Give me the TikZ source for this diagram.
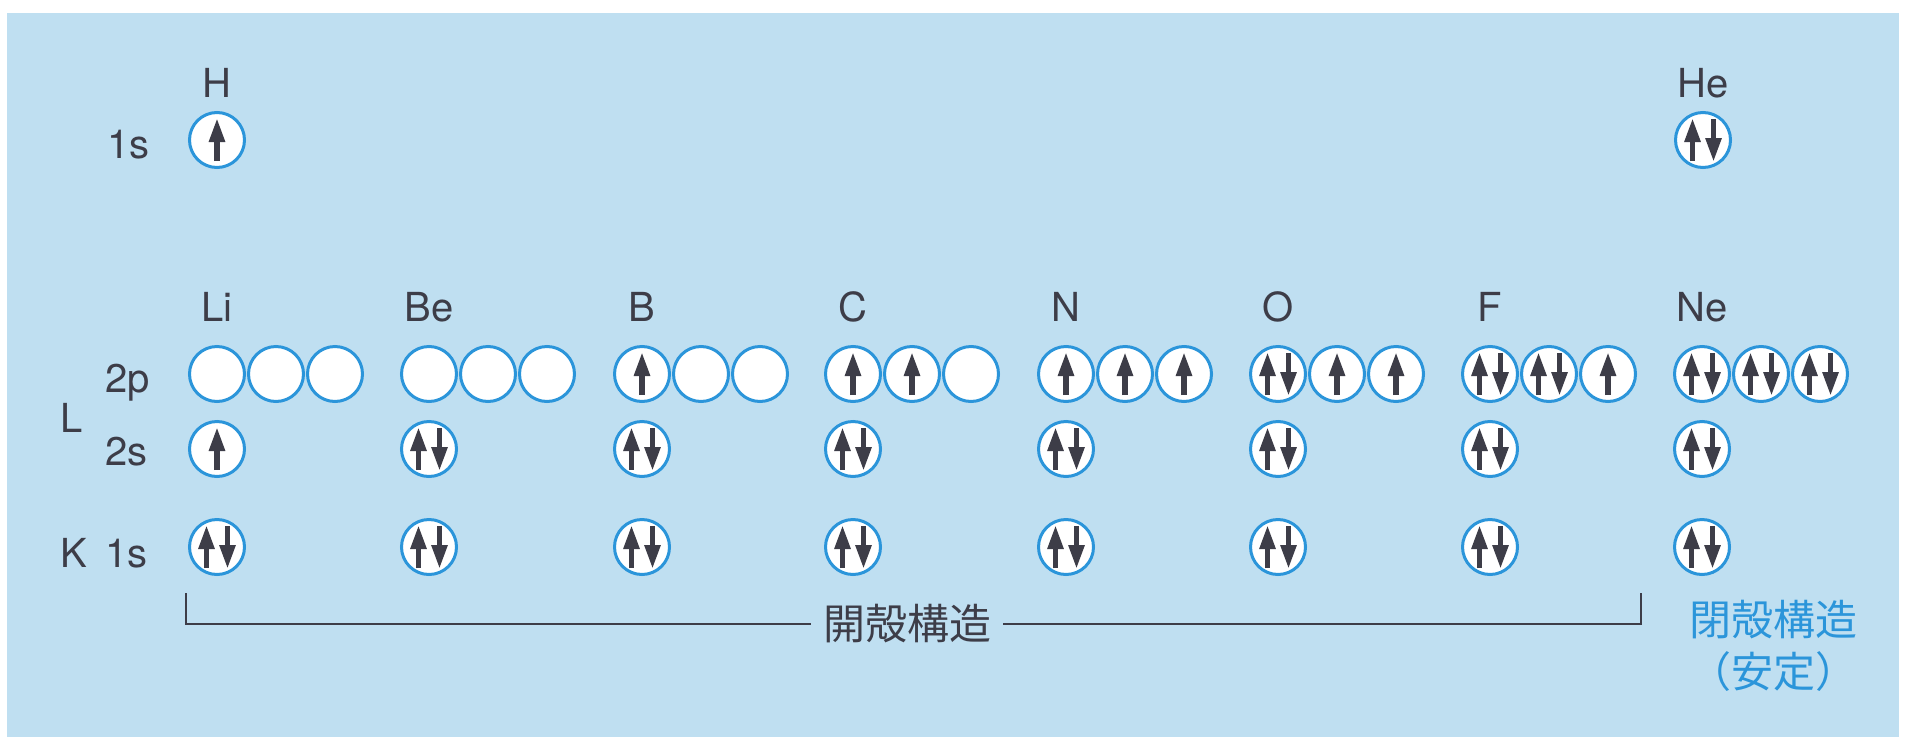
\documentclass[tikz,border=0pt]{standalone}
\usepackage{fontspec}
\setmainfont{TeX Gyre Heros}
\newfontfamily\cjk{Noto Sans CJK JP}
\usetikzlibrary{arrows.meta,calc}
\definecolor{bgblue}{HTML}{BFDFF1}
\definecolor{orbblue}{HTML}{2B95DA}
\definecolor{ink}{HTML}{3D3D48}
\tikzset{
  orb/.style={circle,draw=orbblue,line width=3pt,fill=white,minimum size=55pt,inner sep=0pt},
  spin/.style={ink,line width=5.5pt,-{Triangle[length=24pt,width=15pt]}},
  lbl/.style={anchor=base,text=ink,font=\fontsize{40}{40}\selectfont,inner sep=0pt},
  lblw/.style={lbl,anchor=base west},
  cjklbl/.style={text=ink,font=\cjk\fontsize{42}{42}\selectfont,inner xsep=12pt,inner ysep=0pt},
  cjkblue/.style={text=orbblue,font=\cjk\fontsize{42}{42}\selectfont,inner sep=0pt},
  brk/.style={ink,line width=2.5pt}
}
\newcommand{\eup}[2]{\draw[spin] ($(#1)+(#2,21)$) -- ($(#1)+(#2,-22)$);}
\newcommand{\edn}[2]{\draw[spin] ($(#1)+(#2,-21)$) -- ($(#1)+(#2,22)$);}
\newcommand{\epair}[1]{\eup{#1}{-10.5}\edn{#1}{10.5}}
\begin{document}
\begin{tikzpicture}[x=1pt,y=-1pt]
\useasboundingbox (0,0) rectangle (1910,747);
\fill[bgblue] (7,13) rectangle (1899,737);
% first period
\node[lbl] (labH) at (217,97) {H};
\node[lbl] (labHe) at (1703,97) {He};
\node[lblw] (top1s) at (107,158) {1s};
\node[orb] (H-s1) at (217,140) {};
\node[orb] (He-s1) at (1703,140) {};
\eup{H-s1}{0}
\epair{He-s1}
% shell labels
\node[lblw] (l2p) at (105,392) {2p};
\node[lblw] (l2s) at (105,465) {2s};
\node[lblw] (lL) at (60,432) {L};
\node[lblw] (lK) at (60,567) {K};
\node[lblw] (l1s) at (105,567) {1s};
% second period
\foreach \n/\x in {Li/217,Be/429,B/642,C/853,N/1066,O/1278,F/1490,Ne/1702} {
  \node[lbl] (lab\n) at (\x,321) {\n};
  \node[orb] (\n-p1) at (\x,374) {};
  \node[orb] (\n-p2) at (\x+59,374) {};
  \node[orb] (\n-p3) at (\x+118,374) {};
  \node[orb] (\n-s2) at (\x,449) {};
  \node[orb] (\n-s1) at (\x,547) {};
}
\foreach \n in {Li,Be,B,C,N,O,F,Ne} {\epair{\n-s1}}
\eup{Li-s2}{0}
\foreach \n in {Be,B,C,N,O,F,Ne} {\epair{\n-s2}}
\eup{B-p1}{0}
\eup{C-p1}{0}\eup{C-p2}{0}
\eup{N-p1}{0}\eup{N-p2}{0}\eup{N-p3}{0}
\epair{O-p1}\eup{O-p2}{0}\eup{O-p3}{0}
\epair{F-p1}\epair{F-p2}\eup{F-p3}{0}
\epair{Ne-p1}\epair{Ne-p2}\epair{Ne-p3}
% bracket
\coordinate (bl) at (186,593);
\coordinate (br) at (1641,593);
\node[cjklbl] (open) at (907,624) {開殻構造};
\draw[brk] (bl) |- (open.west);
\draw[brk] (open.east) -| (br);
\node[cjkblue] (closed) at (1773,620) {閉殻構造};
\node[cjkblue] (stable) at (1773,672) {（安定）};
\end{tikzpicture}
\end{document}
